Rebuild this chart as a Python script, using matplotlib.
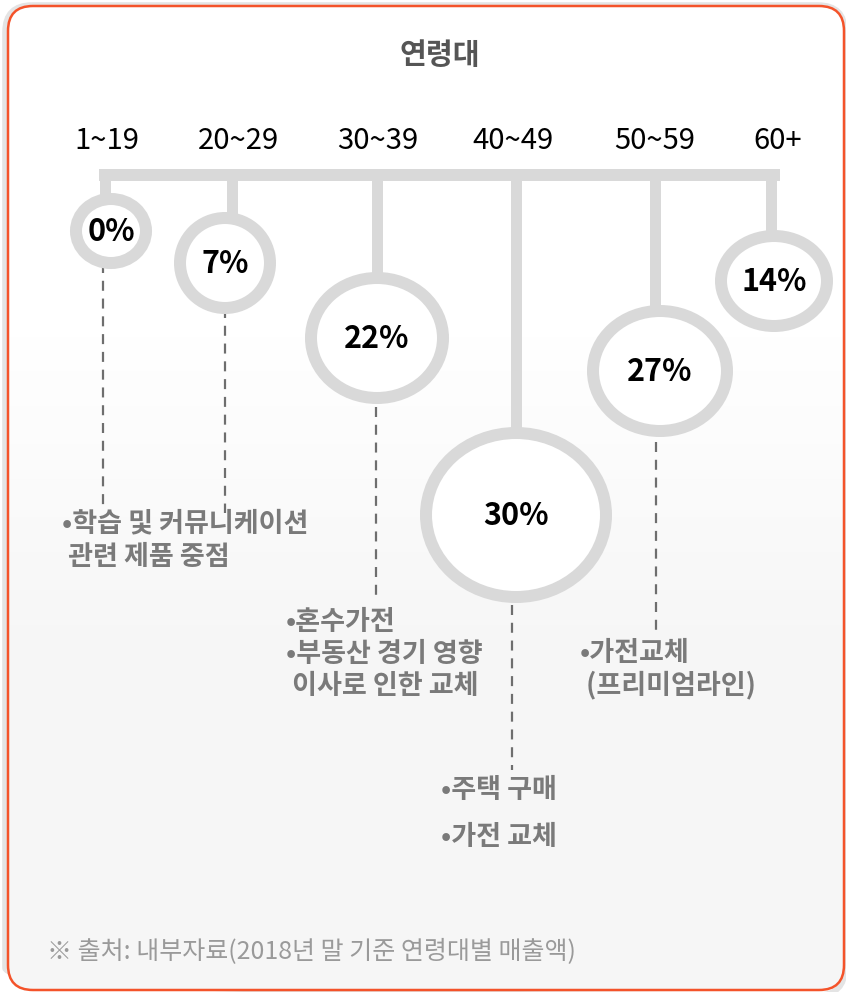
import matplotlib.pyplot as plt
import numpy as np
from matplotlib.patches import Ellipse, FancyBboxPatch
from matplotlib.colors import LinearSegmentedColormap

# data
ages = ['1~19', '20~29', '30~39', '40~49', '50~59', '60+']
shares = [0, 7, 22, 30, 27, 14]
notes = [
    ['•학습 및 커뮤니케이션', ' 관련 제품 중점'],
    [],
    ['•혼수가전', '•부동산 경기 영향', ' 이사로 인한 교체'],
    ['•주택 구매', '', '•가전 교체'],
    ['•가전교체', ' (프리미엄라인)'],
    [],
]
title = '연령대'
source = '※ 출처: 내부자료(2018년 말 기준 연령대별 매출액)'

# layout (pixels)
label_x = [107, 238, 378, 513, 655, 778]
stem_x = [105, 232, 377, 516, 655, 771]
circ_x = [111, 225, 377, 516, 660, 774]
circ_y = [231, 263, 338, 515, 371, 281]
circ_rx = [41, 51, 72, 96, 73, 59]
circ_ry = [38, 51, 66, 88, 66, 51]
dash = [(103, 263, 505), (225, 308, 513), (376, 407, 597),
        (512, 605, 770), (656, 442, 630), None]
note_xy = [(62, 523), None, (286, 622), (441, 790), (580, 653), None]
note_gap = [34, 0, 32, 23.5, 32, 0]

RING = '#d9d9d9'
FONT = ['Noto Sans CJK KR', 'DejaVu Sans']
plt.rcParams['font.family'] = FONT

W, H = 846, 992
fig = plt.figure(figsize=(W / 100, H / 100), dpi=100)
ax = fig.add_axes([0, 0, 1, 1])
ax.set_xlim(0, W)
ax.set_ylim(H, 0)
ax.axis('off')

# card with faint shadow and gradient
shadow = FancyBboxPatch((5, 5), 840, 990, boxstyle='round,pad=0,rounding_size=27',
                        facecolor='none', edgecolor='#e4e4e4', linewidth=4, zorder=0)
ax.add_patch(shadow)
card = FancyBboxPatch((8, 6), 836, 984, boxstyle='round,pad=0,rounding_size=25',
                      facecolor='none', edgecolor='#f4532a', linewidth=1.8, zorder=3)
ax.add_patch(card)
cmap = LinearSegmentedColormap.from_list('bg', ['#ffffff', '#ffffff', '#f6f6f6', '#f6f6f6'])
grad = np.linspace(0, 1, 256).reshape(-1, 1)
im = ax.imshow(grad, extent=(8, 844, 990, 6), cmap=cmap, aspect='auto', zorder=1)
im.set_clip_path(card)

ax.text(440, 55, title, ha='center', va='center', fontsize=21, fontweight='bold',
        color='#555555', zorder=5)

for lx, lab in zip(label_x, ages):
    ax.text(lx, 141, lab, ha='center', va='center', fontsize=21, color='black', zorder=5)

# top bar
ax.plot([99, 780], [175, 175], color=RING, lw=12 * 0.72, solid_capstyle='butt', zorder=2)

for i in range(len(ages)):
    top = circ_y[i] - circ_ry[i] + 6
    ax.plot([stem_x[i], stem_x[i]], [170, top], color=RING, lw=11 * 0.72,
            solid_capstyle='butt', zorder=2)
    ell = Ellipse((circ_x[i], circ_y[i]), 2 * circ_rx[i] - 12, 2 * circ_ry[i] - 12,
                  facecolor='white', edgecolor=RING, lw=12 * 0.72, zorder=4)
    ax.add_patch(ell)
    ax.text(circ_x[i], circ_y[i] + 1, f'{shares[i]}%', ha='center', va='center',
            fontsize=22, fontweight='bold', color='black', zorder=5)
    if dash[i] is not None:
        dx, y0, y1 = dash[i]
        ax.plot([dx, dx], [y0, y1], color='#6e6e6e', lw=1.6, linestyle=(0, (4.5, 3.5)), zorder=3)
    if note_xy[i] is not None:
        nx, ny = note_xy[i]
        for k, line in enumerate(notes[i]):
            ax.text(nx, ny + k * note_gap[i], line, ha='left', va='center', fontsize=19.5,
                    fontweight='bold', color='#7a7a7a', zorder=5)

ax.text(47, 952, source, ha='left', va='center', fontsize=18, color='#9a9a9a', zorder=5)

fig.savefig('out.png', dpi=100)
